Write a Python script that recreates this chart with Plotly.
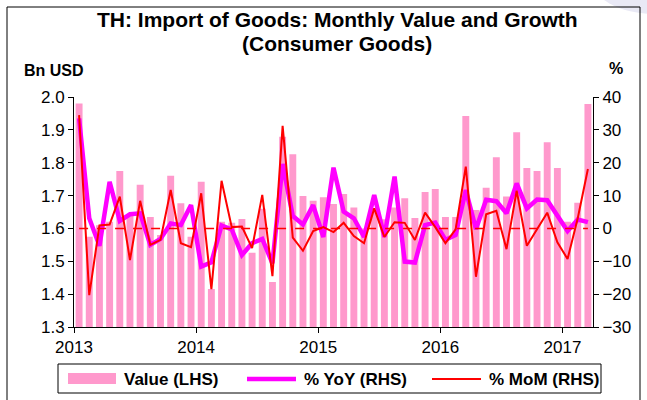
import plotly.graph_objects as go

months = [f"{y}-{m:02d}" for y in range(2013, 2018) for m in range(1, 13)][:51]
value_bn = [1.98, 1.575, 1.61, 1.62, 1.775, 1.64, 1.733, 1.635, 1.58, 1.76, 1.677, 1.575,
            1.742, 1.416, 1.62, 1.617, 1.629, 1.526, 1.66, 1.437, 1.879, 1.826, 1.699, 1.684,
            1.695, 1.674, 1.705, 1.664, 1.60, 1.656, 1.628, 1.664, 1.692, 1.632, 1.711, 1.72,
            1.635, 1.635, 1.942, 1.656, 1.724, 1.817, 1.697, 1.893, 1.784, 1.775, 1.862, 1.784,
            1.62, 1.678, 1.979]
yoy_pct = [33.5, 3.1, -5.3, 14.2, 2.3, 4.3, 4.6, -5.0, -3.2, 1.5, 1.0, 7.1,
           -11.6, -10.3, 0.9, -0.3, -8.1, -4.5, -3.2, -10.6, 19.6, 3.8, 1.2, 7.1,
           -2.6, 18.5, 5.1, 3.1, -2.6, 10.2, -2.6, 15.8, -10.1, -10.4, 1.0, 1.8,
           -3.5, -2.0, 11.7, -0.2, 8.7, 8.3, 4.6, 13.7, 6.1, 8.8, 8.6, 4.1,
           -0.8, 2.7, 1.9]
mom_pct = [34.5, -20.3, 0.9, 1.2, 9.7, -9.6, 8.4, -5.0, -3.5, 11.7, -4.5, -5.7,
           10.7, -18.5, 14.5, 0.4, 0.6, -6.0, 10.2, -14.5, 31.2, -2.8, -6.8, -0.8,
           0.4, -1.1, 1.7, -2.3, -4.5, 6.1, -2.6, 1.9, 1.7, -3.5, 4.8, 0.4,
           -4.5, -0.3, 18.8, -14.7, 4.3, 5.4, -6.3, 11.5, -5.3, -0.1, 4.8, -4.2,
           -9.3, 3.1, 18.1]
zero_ref = [0] * len(months)
year_labels = ["2013", "2014", "2015", "2016", "2017"]
series_names = ["Value (LHS)", "% YoY (RHS)", "% MoM (RHS)"]
colors = ["#FF99CC", "#FF00FF", "#FF0000"]

idx = list(range(len(months)))
year_ticks = [months.index(f"{y}-01") - 0.5 for y in year_labels]

FONT = "Liberation Sans, Arial, sans-serif"
W, H = 647, 400
ML, MR, MT, MB = 74, 54, 97, 73
PW, PH = W - ML - MR, H - MT - MB


def px_x(x):
    return (x - ML) / PW


def px_y(y):
    return (H - MB - y) / PH


fig = go.Figure()
fig.add_trace(go.Bar(x=idx, y=value_bn, name=series_names[0], marker_color=colors[0],
                     marker_line_width=0, width=0.68, customdata=months, showlegend=False))
fig.add_trace(go.Scatter(x=idx, y=yoy_pct, name=series_names[1], yaxis="y2", mode="lines",
                         line=dict(color=colors[1], width=4.5), showlegend=False))
fig.add_trace(go.Scatter(x=idx, y=mom_pct, name=series_names[2], yaxis="y2", mode="lines",
                         line=dict(color=colors[2], width=2), showlegend=False))
fig.add_trace(go.Scatter(x=idx, y=zero_ref, yaxis="y2", mode="lines", showlegend=False,
                         line=dict(color=colors[2], width=1.5, dash="dash")))

bold = dict(family=FONT, weight="bold", color="black")

annotations = [
    dict(text="TH: Import of Goods: Monthly Value and Growth", x=px_x(337), y=px_y(20),
         font=dict(size=21, **bold)),
    dict(text="(Consumer Goods)", x=px_x(337), y=px_y(43), font=dict(size=21, **bold)),
    dict(text="Bn USD", x=px_x(22), y=px_y(70), xanchor="left", font=dict(size=16, **bold)),
    dict(text="%", x=px_x(616), y=px_y(68), font=dict(size=16, **bold)),
]
leg_text_x = [122, 302, 487]
for name, lx in zip(series_names, leg_text_x):
    annotations.append(dict(text=name, x=px_x(lx), y=px_y(379), xanchor="left",
                            font=dict(size=17, **bold)))
for a in annotations:
    a.setdefault("xanchor", "center")
    a.update(xref="paper", yref="paper", yanchor="middle", showarrow=False)

shapes = [
    # corner decoration
    dict(type="circle", x0=px_x(590), x1=px_x(720), y0=px_y(14), y1=px_y(-60),
         line=dict(width=0), fillcolor="#E9E9F5", layer="below"),
    # outer frame
    dict(type="rect", x0=px_x(7), x1=px_x(640), y0=px_y(420), y1=px_y(7),
         line=dict(color="black", width=1)),
    # legend box and symbols
    dict(type="rect", x0=px_x(58), x1=px_x(601), y0=px_y(393), y1=px_y(364),
         line=dict(color="black", width=1)),
    dict(type="rect", x0=px_x(68), x1=px_x(116), y0=px_y(384), y1=px_y(373),
         line=dict(width=0), fillcolor=colors[0]),
    dict(type="line", x0=px_x(247), x1=px_x(296), y0=px_y(379), y1=px_y(379),
         line=dict(color=colors[1], width=4.5)),
    dict(type="line", x0=px_x(432), x1=px_x(481), y0=px_y(379), y1=px_y(379),
         line=dict(color=colors[2], width=2)),
]
for s in shapes:
    s.update(xref="paper", yref="paper")

axis_common = dict(ticks="outside", ticklen=5, tickcolor="black", showline=True,
                   linecolor="black", linewidth=1, showgrid=False, zeroline=False,
                   tickfont=dict(size=17, family=FONT, color="black"), automargin=False)

fig.update_layout(
    width=W, height=H,
    margin=dict(l=ML, r=MR, t=MT, b=MB, autoexpand=False),
    paper_bgcolor="white", plot_bgcolor="white",
    font=dict(family=FONT, size=15, color="black"),
    showlegend=False,
    xaxis=dict(range=[-0.5, len(months) - 0.5], tickmode="array", tickvals=year_ticks,
               ticktext=year_labels, **axis_common),
    yaxis=dict(range=[1.3, 2.0], dtick=0.1, tickformat=".1f", **axis_common),
    yaxis2=dict(range=[-30, 40], dtick=10, overlaying="y", side="right", **axis_common),
    annotations=annotations,
    shapes=shapes,
)

fig.write_html("out.html", config={"displayModeBar": False},
               post_script="document.body.style.margin='0';document.body.style.overflow='hidden';")
